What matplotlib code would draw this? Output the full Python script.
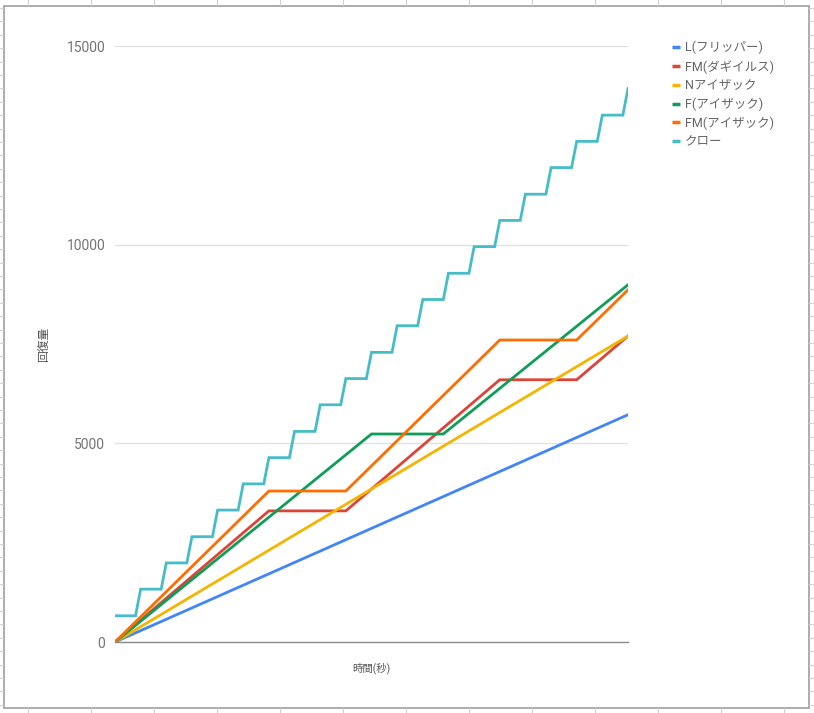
import matplotlib.pyplot as plt
from matplotlib.lines import Line2D
from matplotlib.patches import Rectangle

plt.rcParams['font.family'] = ['Roboto', 'Noto Sans CJK JP', 'DejaVu Sans']

# Data (time in seconds, healing amount)
flipper_time = [0, 100]
flipper_val = [0, 5720]

dagilus_time = [0, 30, 45, 75, 90, 100]
dagilus_val = [0, 3300, 3300, 6600, 6600, 7700]

n_isaac_time = [0, 100]
n_isaac_val = [0, 7700]

f_isaac_time = [0, 50, 64, 100]
f_isaac_val = [0, 5235, 5235, 8990]

fm_isaac_time = [0, 30, 45, 75, 90, 100]
fm_isaac_val = [0, 3800, 3800, 7600, 7600, 8865]

claw_time = [0, 4, 5, 9, 10, 14, 15, 19, 20, 24, 25, 29, 30, 34, 35, 39, 40, 44,
             45, 49, 50, 54, 55, 59, 60, 64, 65, 69, 70, 74, 75, 79, 80, 84,
             85, 89, 90, 94, 95, 99, 100]
claw_val = [660, 660, 1330, 1330, 1990, 1990, 2650, 2650, 3320, 3320, 3980, 3980,
            4640, 4640, 5300, 5300, 5970, 5970, 6630, 6630, 7290, 7290, 7960, 7960,
            8620, 8620, 9280, 9280, 9950, 9950, 10610, 10610, 11270, 11270,
            11940, 11940, 12600, 12600, 13260, 13260, 13930]

series = [
    ('L(フリッパー)', flipper_time, flipper_val, '#4285F4'),
    ('FM(ダギイルス)', dagilus_time, dagilus_val, '#DB4437'),
    ('Nアイザック', n_isaac_time, n_isaac_val, '#F4B400'),
    ('F(アイザック)', f_isaac_time, f_isaac_val, '#0F9D58'),
    ('FM(アイザック)', fm_isaac_time, fm_isaac_val, '#FF6D01'),
    ('クロー', claw_time, claw_val, '#46BDC6'),
]

W, H = 814, 713
fig = plt.figure(figsize=(W / 100, H / 100), dpi=100)
fig.patch.set_facecolor('white')

# spreadsheet cells peeking around the chart frame
for xp in range(28, W, 63):
    fig.add_artist(Line2D([xp / W, xp / W], [1 - 0 / H, 1 - 5 / H], color='#d0d0d0', lw=0.8))
    fig.add_artist(Line2D([xp / W, xp / W], [0, 1 - 708 / H], color='#d0d0d0', lw=0.8))
yp = 8
while yp < H:
    fig.add_artist(Line2D([0, 3 / W], [1 - yp / H, 1 - yp / H], color='#d0d0d0', lw=0.8))
    fig.add_artist(Line2D([809 / W, 1], [1 - yp / H, 1 - yp / H], color='#d0d0d0', lw=0.8))
    yp += 13.4

# chart frame
fig.add_artist(Rectangle((3.5 / W, 1 - 707.5 / H), 805 / W, 701.5 / H,
                         transform=fig.transFigure, fill=False,
                         edgecolor='#9e9e9e', lw=1.2))

ax = fig.add_axes([115 / W, 1 - 642 / H, 513 / W, 596 / H])
for name, t, v, c in series:
    ax.plot(t, v, color=c, lw=2, label=name, solid_joinstyle='miter', zorder=3)

ax.set_xlim(0, 100)
ax.set_ylim(0, 15000)
ax.set_yticks([0, 5000, 10000, 15000])
ax.set_xticks([])
ax.tick_params(axis='y', length=0, pad=7, labelsize=10, labelcolor='#757575')
for s in ['top', 'right', 'left']:
    ax.spines[s].set_visible(False)
ax.spines['bottom'].set_color('#8a8a8a')
ax.spines['bottom'].set_linewidth(1.0)
ax.spines['bottom'].set_zorder(2)
ax.grid(axis='y', color='#e0e0e0', lw=0.9, zorder=0)
ax.set_axisbelow(True)

fig.text(371.5 / W, 1 - 668 / H, '時間(秒)', ha='center', va='center',
         fontsize=7.5, color='#555555')
fig.text(44 / W, 1 - 344 / H, '回復量', ha='center', va='center',
         rotation=90, fontsize=8.5, color='#555555')

leg = ax.legend(loc='upper left', bbox_to_anchor=(672 / W, 1 - 41 / H),
                bbox_transform=fig.transFigure, frameon=False, fontsize=9,
                handlelength=0.65, handletextpad=0.4, labelspacing=0.44,
                borderpad=0, borderaxespad=0)
for txt in leg.get_texts():
    txt.set_color('#666666')
for h in leg.get_lines():
    h.set_linewidth(2.5)
    h.set_solid_capstyle('butt')

fig.savefig('out.png', dpi=100)
